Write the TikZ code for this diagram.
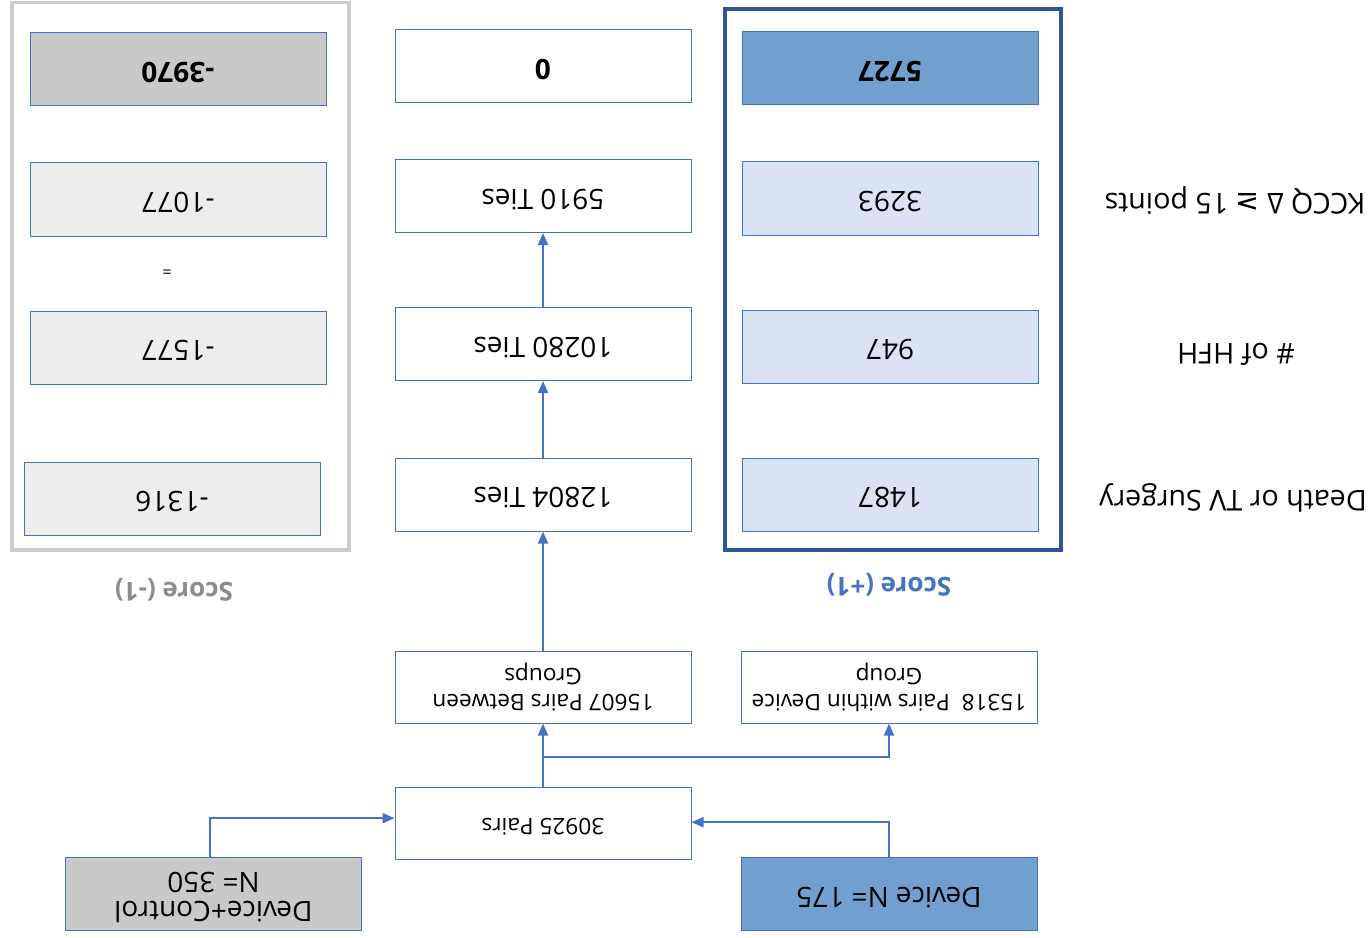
\documentclass[tikz,border=0pt]{standalone}
\usepackage{graphicx}
\usepackage{fontspec}
\setmainfont{Open Sans}
\newfontfamily\symfont{DejaVu Sans}
\usetikzlibrary{arrows.meta}
\definecolor{bd}{HTML}{4472C4}
\definecolor{dfill}{HTML}{72A0CE}
\definecolor{lfill}{HTML}{DAE3F3}
\definecolor{frameblue}{HTML}{2F5597}
\definecolor{gdark}{HTML}{C9C9C9}
\definecolor{glight}{HTML}{EDEDED}
\definecolor{gframe}{HTML}{CCCCCC}
\definecolor{gtext}{HTML}{8C8C8C}
\newcommand{\R}[1]{\rotatebox[origin=c]{180}{\begin{tabular}{@{}c@{}}#1\end{tabular}}}
\begin{document}
\begin{tikzpicture}[x=0.75pt,y=-0.75pt,
  box/.style={draw=bd, line width=0.75pt, minimum width=222pt, minimum height=54.75pt, inner sep=0pt, fill=white, font=\fontsize{21}{25}\selectfont},
  boldbox/.style={box, font=\fontsize{21}{25}\selectfont\bfseries},
  smallbox/.style={box, minimum height=54pt, font=\fontsize{17}{19.5}\selectfont},
  lbl/.style={inner sep=0pt, font=\fontsize{21.5}{25}\selectfont},
  scorelbl/.style={inner sep=0pt, font=\fontsize{19.5}{22}\selectfont\bfseries},
  arr/.style={draw=bd, line width=1.5pt, -{Triangle[length=9pt,width=7.5pt]}},
  ln/.style={draw=bd, line width=1.5pt}]
\useasboundingbox (0,0) rectangle (1370,938);
% frames
\draw[gframe, line width=2.4pt] (12,2.5) rectangle (349,550);
\draw[frameblue, line width=2.4pt] (725,9) rectangle (1061,550);
% left column
\node[boldbox, fill=gdark] (m3970) at (178,69.5) {\R{-3970}};
\node[box, fill=glight] (m1077) at (178,199.5) {\R{-1077}};
\node[lbl, font=\fontsize{12}{14}\selectfont] (eq) at (167,270) {\R{=}};
\node[box, fill=glight] (m1577) at (178,347.5) {\R{-1577}};
\node[box, fill=glight] (m1316) at (172,498.5) {\R{-1316}};
\node[scorelbl, text=gtext] (scm) at (174,588) {\R{Score (-1)}};
% middle column
\node[boldbox] (z) at (543,66.5) {\R{0}};
\node[box] (t5910) at (543,196) {\R{5910 Ties}};
\node[box] (t10280) at (543,344) {\R{10280 Ties}};
\node[box] (t12804) at (543,494.5) {\R{12804 Ties}};
\node[smallbox] (between) at (543,687) {\R{15607 Pairs Between\\Groups}};
\node[smallbox] (pairs) at (543,823.5) {\R{30925 Pairs}};
% right column
\node[boldbox, fill=dfill] (p5727) at (890,68.5) {\R{5727}};
\node[box, fill=lfill] (p3293) at (890,198.5) {\R{3293}};
\node[box, fill=lfill] (p947) at (890,346.5) {\R{947}};
\node[box, fill=lfill] (p1487) at (890,494.5) {\R{1487}};
\node[scorelbl, text=bd] (scp) at (889,583) {\R{Score (+1)}};
\node[smallbox] (within) at (889,687) {\R{15318\ \ Pairs within Device\\Group}};
% bottom
\node[box, fill=dfill, font=\fontsize{21}{22}\selectfont] (dev) at (889,893.5) {\R{Device N= 175}};
\node[box, fill=gdark, font=\fontsize{21}{22}\selectfont] (dc) at (213.5,893.5) {\R{Device+Control\\N= 350}};
% labels
\node[lbl] (kccq) at (1235,200) {\R{KCCQ Δ {\symfont ≥} 15 points}};
\node[lbl] (hfh) at (1236,350) {\R{\# of HFH}};
\node[lbl] (death) at (1233,497) {\R{Death or TV Surgery}};
% connectors
\coordinate (split) at (543,757);
\draw[ln] (pairs.north) -- (split);
\draw[arr] (split) -- (between.south);
\draw[arr] (split) -| (within.south);
\draw[arr] ([xshift=-2.6pt]dc.north) |- ([yshift=4pt]pairs.west);
\draw[arr] (dev.north) |- ([yshift=1pt]pairs.east);
\draw[arr] (between.north) -- (t12804.south);
\draw[arr] (t12804.north) -- (t10280.south);
\draw[arr] (t10280.north) -- (t5910.south);
\end{tikzpicture}
\end{document}
